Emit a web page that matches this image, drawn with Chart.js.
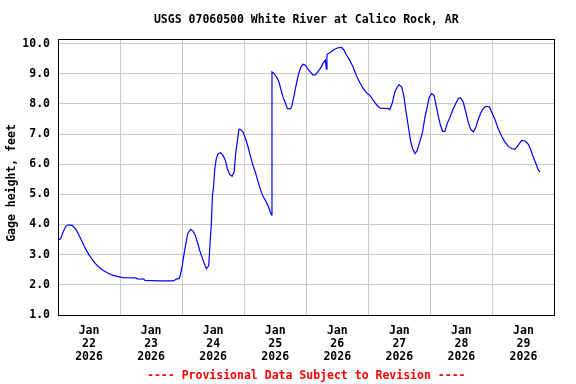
<!DOCTYPE html>
<html>
<head>
<meta charset="utf-8">
<script src="https://cdn.jsdelivr.net/npm/chart.js@4.4.1/dist/chart.umd.min.js"></script>
<style>
  html, body { margin: 0; padding: 0; background: #fff; }
  #wrap { width: 576px; height: 384px; position: relative; }
</style>
</head>
<body>
<div id="wrap"><canvas id="gage"></canvas></div>
<script>
// hours since Jan 22 2026 00:00
const hours = [
  0, 1, 2, 3, 4, 5.5, 7, 8, 9.4, 10.6, 11.9, 13.2, 14.5, 15.8, 17.1, 19, 21, 22.9, 24.9,
  30, 30.7, 33.2, 33.6, 39.3, 44.2, 45.1, 45.8, 47, 47.9, 48.7, 49.6, 50.2, 51.3, 52.2,
  53.1, 53.9, 54.8, 55.7, 56.4, 57.4, 58.3, 58.9, 59.3, 59.7, 60.2, 60.6, 61.2, 61.9,
  62.9, 63.8, 64.7, 65.5, 66.4, 67.3, 68.1, 68.7, 69.4, 70, 70.6, 71.5, 72.5, 73.5,
  74.5, 75.4, 76.3, 77.3, 78.4, 79.3, 80.2, 81.2, 82.5, 82.75, 83.5, 84.5, 85.4, 86.1,
  87, 88, 88.7, 90, 90.5, 91.3, 92.2, 93.1, 93.9, 94.8, 95.7, 96.5, 97.4, 98.6, 99.6,
  100.6, 101.6, 102.5, 103.4, 103.8, 104, 104.2, 105.5, 106.8, 108.3, 109.6, 110.6,
  111.6, 112.8, 114.1, 115.4, 116.7, 118, 119.3, 120.6, 121.9, 123.2, 124.6, 127.7,
  128.3, 129.2, 130.3, 131.2, 131.9, 132.9, 133.7, 134.5, 135.4, 136.3, 137.1, 138.1,
  138.9, 139.9, 141, 141.9, 142.8, 143.5, 144.5, 145.4, 146.1, 147, 147.9, 148.7,
  149.6, 150.5, 151.6, 152.6, 153.9, 154.8, 155.7, 156.7, 157.7, 158.6, 159.6, 160.6,
  161.6, 162.5, 163.4, 164.4, 165.5, 166.8, 167.7, 169, 170.2, 171.6, 172.8, 174.1,
  175.4, 176.7, 178, 179.3, 180.6, 181.9, 182.8, 183.8, 184.8, 185.7, 186.4
];
const gageFt = [
  3.49, 3.53, 3.75, 3.94, 3.99, 3.97, 3.83, 3.67, 3.42, 3.20, 3.01, 2.84, 2.70, 2.59, 2.50, 2.40, 2.32, 2.28, 2.24,
  2.23, 2.20, 2.19, 2.15, 2.13, 2.13, 2.15, 2.19, 2.22, 2.55, 3.00, 3.44, 3.71, 3.84, 3.78,
  3.64, 3.42, 3.14, 2.92, 2.75, 2.53, 2.64, 3.53, 4.03, 4.93, 5.30, 5.82, 6.18, 6.35,
  6.38, 6.29, 6.13, 5.85, 5.66, 5.60, 5.74, 6.35, 6.79, 7.16, 7.15, 7.07, 6.85, 6.57,
  6.24, 5.96, 5.74, 5.44, 5.13, 4.93, 4.80, 4.63, 4.32, 9.06, 9.01, 8.89, 8.73, 8.51,
  8.23, 8.01, 7.84, 7.84, 7.95, 8.29, 8.67, 9.01, 9.22, 9.31, 9.28, 9.17, 9.08, 8.95, 8.97,
  9.08, 9.19, 9.34, 9.45, 9.15, 9.62, 9.65, 9.72, 9.80, 9.86, 9.87, 9.78,
  9.61, 9.45, 9.22, 8.93, 8.71, 8.51, 8.37, 8.28, 8.12, 7.97, 7.86, 7.84,
  7.81, 8.01, 8.40, 8.56, 8.64, 8.56, 8.28, 7.79, 7.29, 6.79, 6.52, 6.35,
  6.46, 6.74, 7.07, 7.56, 7.90, 8.21, 8.34, 8.28, 8.01, 7.62, 7.29, 7.09,
  7.09, 7.35, 7.56, 7.79, 8.03, 8.18, 8.20, 8.06, 7.73, 7.40, 7.15, 7.07,
  7.23, 7.48, 7.68, 7.84, 7.92, 7.90, 7.73, 7.48, 7.18, 6.92, 6.74, 6.59,
  6.52, 6.49, 6.63, 6.79, 6.77, 6.66, 6.48, 6.24, 6.02, 5.82, 5.74
];
const dayLabels = ['22', '23', '24', '25', '26', '27', '28', '29'];
const yTicks = [1, 2, 3, 4, 5, 6, 7, 8, 9, 10];

const FONT = 'bold 11.5px "DejaVu Sans Mono", "Liberation Mono", monospace';
const fontOpt = { family: '"DejaVu Sans Mono", "Liberation Mono", monospace', size: 11.5, weight: 'bold', lineHeight: 1.12 };
const GRID = '#c8c8c8';

// frame + title + footer + y title
const decor = {
  id: 'decor',
  afterDraw(chart) {
    const { ctx, chartArea: a } = chart;
    ctx.save();
    ctx.strokeStyle = '#000';
    ctx.lineWidth = 1;
    ctx.strokeRect(Math.round(a.left) + 0.5, Math.round(a.top) + 0.5,
      Math.round(a.right - a.left) - 1, Math.round(a.bottom - a.top));
    const cx = (a.left + a.right) / 2;
    ctx.font = FONT;
    ctx.textAlign = 'center';
    ctx.textBaseline = 'middle';
    ctx.fillStyle = '#000';
    ctx.fillText('USGS 07060500 White River at Calico Rock, AR', cx, 20);
    ctx.fillStyle = '#ff0000';
    ctx.fillText('---- Provisional Data Subject to Revision ----', cx, 376);
    ctx.fillStyle = '#000';
    ctx.translate(12, 183);
    ctx.rotate(-Math.PI / 2);
    ctx.fillText('Gage height, feet', 0, 0);
    ctx.restore();
  }
};

new Chart(document.getElementById('gage'), {
  type: 'line',
  data: {
    datasets: [{
      data: hours.map((h, i) => ({ x: h, y: gageFt[i] })),
      borderColor: '#0000ff',
      borderWidth: 1.2,
      pointRadius: 0,
      tension: 0,
      fill: false
    }]
  },
  options: {
    responsive: true,
    maintainAspectRatio: false,
    animation: false,
    layout: { padding: { top: 39, right: 21.5, left: 0, bottom: 0 } },
    plugins: { legend: { display: false }, tooltip: { enabled: false } },
    scales: {
      x: {
        type: 'linear',
        min: 0,
        max: 192,
        afterFit: s => { s.height = 69; },
        afterBuildTicks: s => {
          const t = [];
          for (let v = 0; v <= 192; v += 12) t.push({ value: v });
          s.ticks = t;
        },
        ticks: {
          autoSkip: false,
          maxRotation: 0,
          padding: 10,
          color: '#000',
          font: fontOpt,
          callback: v => (v % 24 === 12) ? ['Jan', dayLabels[Math.floor(v / 24)], '2026'] : ''
        },
        grid: {
          color: c => (c.tick && c.tick.value % 24 === 0) ? GRID : 'rgba(0,0,0,0)',
          drawTicks: false,
          lineWidth: 1
        },
        border: { display: false }
      },
      y: {
        min: 1,
        max: 10.15,
        afterFit: s => { s.width = 58; },
        afterBuildTicks: s => { s.ticks = yTicks.map(v => ({ value: v })); },
        ticks: {
          padding: 8,
          color: '#000',
          font: fontOpt,
          callback: v => Number(v).toFixed(1)
        },
        grid: { color: GRID, drawTicks: false, lineWidth: 1 },
        border: { display: false }
      }
    }
  },
  plugins: [decor]
});
</script>
</body>
</html>
